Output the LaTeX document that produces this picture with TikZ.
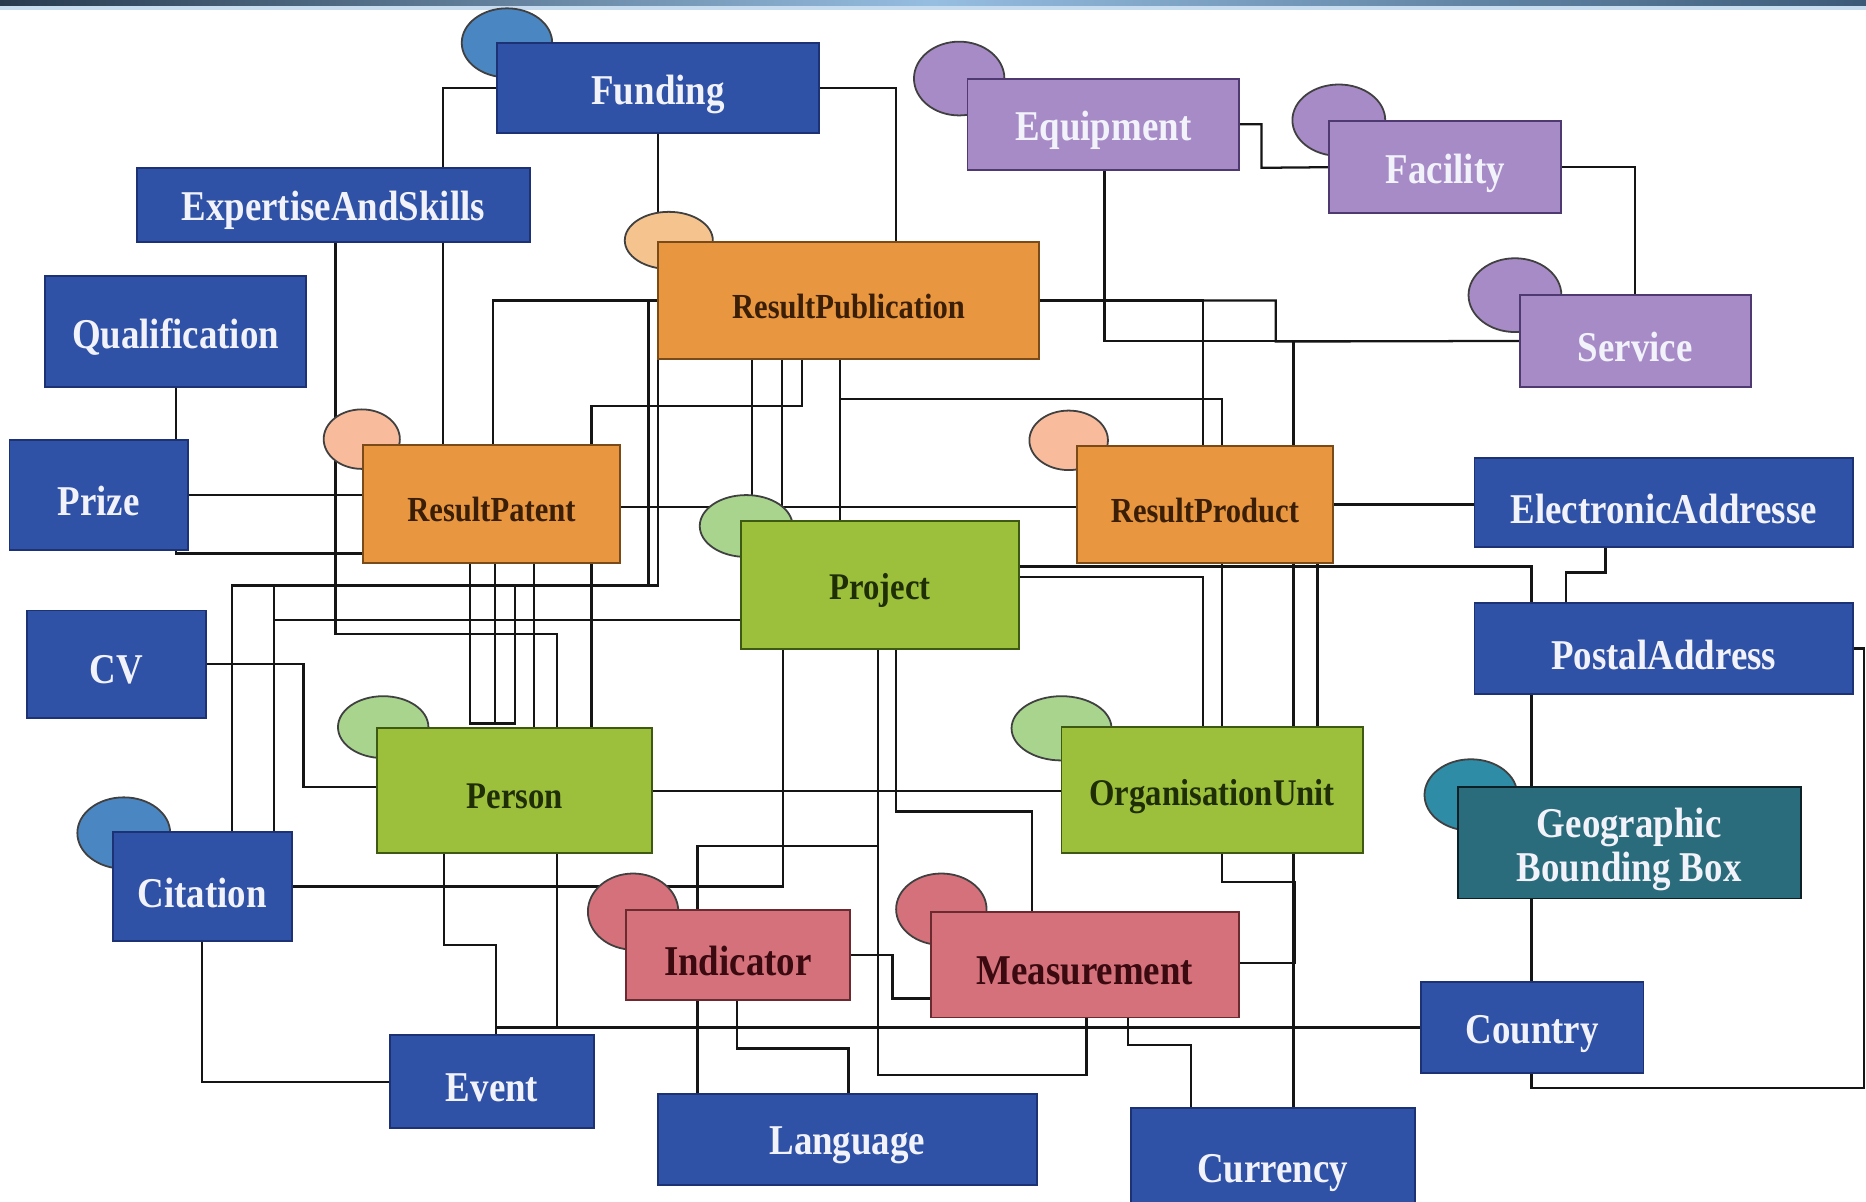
\documentclass[tikz,border=0pt]{standalone}
\usepackage{fontspec}
\setmainfont{Liberation Serif}
\usetikzlibrary{shapes.geometric}
\pgfdeclarelayer{bg}
\pgfsetlayers{bg,main}
\definecolor{bluebox}{HTML}{2F52A6}
\definecolor{blueedge}{HTML}{1C3275}
\definecolor{bluecirc}{HTML}{4A87C2}
\definecolor{purp}{HTML}{A78BC7}
\definecolor{purpedge}{HTML}{4E3A70}
\definecolor{orng}{HTML}{E8963F}
\definecolor{orngedge}{HTML}{7A4A18}
\definecolor{peach}{HTML}{F5C48E}
\definecolor{salmon}{HTML}{F8BC9C}
\definecolor{grn}{HTML}{9CC03C}
\definecolor{grnedge}{HTML}{3E5A12}
\definecolor{lgrn}{HTML}{A8D48E}
\definecolor{pinkbx}{HTML}{D4717A}
\definecolor{pinkedge}{HTML}{6A2A30}
\definecolor{tealbx}{HTML}{2B6C7C}
\definecolor{tealc}{HTML}{2E8CA6}
\definecolor{lnc}{HTML}{151515}
\definecolor{lighttxt}{HTML}{F2F2FA}
\definecolor{darkbrown}{HTML}{3A1E05}
\definecolor{darkgreen}{HTML}{1F2E05}
\definecolor{darkred}{HTML}{3A0A10}
\definecolor{banddark}{HTML}{283A4E}
\definecolor{banddark2}{HTML}{3C5A78}
\definecolor{bandmid}{HTML}{96BEE1}
\definecolor{bandlight}{HTML}{C8DCF0}
\newcommand\T[1]{\raisebox{0pt}[\dimexpr\height+10pt\relax]{\scalebox{1}[1.15]{#1}}}
\newcommand\TT[1]{\raisebox{0pt}[\dimexpr\height+12pt\relax]{\scalebox{1}[1.15]{#1}}}
\newcommand\TS[1]{\scalebox{1}[1.15]{#1}}
\tikzset{
  bx/.style={rectangle, draw, line width=1.6pt, inner sep=0pt, align=center},
  bigfont/.style={font=\fontsize{31}{37}\selectfont\bfseries},
  midfont/.style={font=\fontsize{27.5}{32}\selectfont\bfseries},
  smallfont/.style={font=\fontsize{25.7}{30}\selectfont\bfseries},
  bluebx/.style={bx, bigfont, fill=bluebox, draw=blueedge, text=lighttxt},
  purpbx/.style={bx, bigfont, fill=purp, draw=purpedge, text=lighttxt},
  orngbx/.style={bx, smallfont, fill=orng, draw=orngedge, text=darkbrown},
  grnbx/.style={bx, midfont, fill=grn, draw=grnedge, text=darkgreen},
  pinkbx/.style={bx, bigfont, fill=pinkbx, draw=pinkedge, text=darkred},
  tealbx/.style={bx, bigfont, fill=tealbx, draw=black!70!tealbx, text=lighttxt},
  circ/.style={ellipse, draw=black!75, line width=1.5pt, inner sep=0pt},
  conn/.style={draw=lnc, line width=1.9pt},
}
\begin{document}
\begin{tikzpicture}[x=1pt,y=-1pt]
\useasboundingbox (0,0) rectangle (1568,1010);
\clip (0,0) rectangle (1568,1010);
\begin{pgfonlayer}{bg}
\fill[white] (0,0) rectangle (1568,1010);
\end{pgfonlayer}
% top band
\shade[left color=banddark, right color=banddark2, middle color=bandmid] (0,0) rectangle (1568,5);
\fill[bandlight] (0,5) rectangle (1568,8);

% circles
\node[circ, fill=bluecirc, minimum width=76pt, minimum height=58pt] (fundc) at (426,36) {};
\node[circ, fill=purp, minimum width=76pt, minimum height=62pt] (equipc) at (806,66) {};
\node[circ, fill=purp, minimum width=78pt, minimum height=60pt] (facc) at (1125,101) {};
\node[circ, fill=purp, minimum width=78pt, minimum height=62pt] (servc) at (1273,248) {};
\node[circ, fill=peach, minimum width=74pt, minimum height=48pt] (rpubc) at (562,202) {};
\node[circ, fill=salmon, minimum width=64pt, minimum height=50pt] (rpatc) at (304,369) {};
\node[circ, fill=salmon, minimum width=66pt, minimum height=50pt] (rprodc) at (898,370) {};
\node[circ, fill=lgrn, minimum width=78pt, minimum height=52pt] (projc) at (627,442) {};
\node[circ, fill=lgrn, minimum width=76pt, minimum height=52pt] (personc) at (322,611) {};
\node[circ, fill=lgrn, minimum width=84pt, minimum height=54pt] (orgc) at (892,612) {};
\node[circ, fill=pinkbx, minimum width=76pt, minimum height=64pt] (indc) at (532,766) {};
\node[circ, fill=pinkbx, minimum width=76pt, minimum height=60pt] (measc) at (791,764) {};
\node[circ, fill=bluecirc, minimum width=78pt, minimum height=60pt] (citc) at (104,700) {};
\node[circ, fill=tealc, minimum width=78pt, minimum height=60pt] (geoc) at (1236,668) {};

% boxes
\node[bluebx, minimum width=270pt, minimum height=76pt] (fund) at (553,74) {\T{Funding}};
\node[bluebx, minimum width=330pt, minimum height=62pt] (exp) at (280,172) {\T{ExpertiseAndSkills}};
\node[bluebx, minimum width=219pt, minimum height=93pt] (qual) at (147.5,278.5) {\T{Qualification}};
\node[bluebx, minimum width=150pt, minimum height=92pt] (prize) at (83,416) {\T{Prize}};
\node[bluebx, minimum width=150pt, minimum height=90pt] (cv) at (98,558) {\T{CV}};
\node[bluebx, minimum width=150pt, minimum height=92pt] (cit) at (170,745) {\T{Citation}};
\node[bluebx, minimum width=171pt, minimum height=78pt] (event) at (413.5,909) {\T{Event}};
\node[bluebx, minimum width=318pt, minimum height=77pt] (lang) at (712,957.5) {\T{Language}};
\node[bluebx, minimum width=239pt, minimum height=99pt] (cur) at (1069.5,980.5) {\T{Currency}};
\node[bluebx, minimum width=187pt, minimum height=77pt] (country) at (1287.5,863.5) {\T{Country}};
\node[tealbx, minimum width=288pt, minimum height=94pt] (geo) at (1369,708) {\TT{Geographic}\\\TS{Bounding Box}};
\node[bluebx, minimum width=318pt, minimum height=76pt] (paddr) at (1398,545) {\T{PostalAddress}};
\node[bluebx, minimum width=318pt, minimum height=75pt] (eaddr) at (1398,422.5) {\T{ElectronicAddresse}};
\node[purpbx, minimum width=194pt, minimum height=77pt] (serv) at (1374,286.5) {\T{Service}};
\node[purpbx, minimum width=195pt, minimum height=77pt] (fac) at (1214.5,140.5) {\T{Facility}};
\node[purpbx, minimum width=228pt, minimum height=77pt] (equip) at (927,104.5) {\T{Equipment}};
\node[orngbx, minimum width=320pt, minimum height=99pt] (rpub) at (713,252.5) {\T{ResultPublication}};
\node[orngbx, minimum width=216pt, minimum height=99pt] (rpat) at (413,423.5) {\T{ResultPatent}};
\node[orngbx, minimum width=215pt, minimum height=98pt] (rprod) at (1012.5,424) {\T{ResultProduct}};
\node[grnbx, minimum width=233pt, minimum height=107pt] (proj) at (739.5,491.5) {\T{Project}};
\node[grnbx, minimum width=231pt, minimum height=105pt] (person) at (432.5,664.5) {\T{Person}};
\node[grnbx, minimum width=253pt, minimum height=106pt] (org) at (1018.5,664) {\T{OrganisationUnit}};
\node[pinkbx, minimum width=188pt, minimum height=75pt] (ind) at (620,802.5) {\T{Indicator}};
\node[pinkbx, minimum width=259pt, minimum height=89pt] (meas) at (911.5,810.5) {\T{Measurement}};

\begin{pgfonlayer}{bg}
\draw[conn] (fund.west) -| (rpat.north -| 372,0);
\draw[conn] (fund.south -| 553,0) -- (rpub.north -| 553,0);
\draw[conn] (fund.east) -| (rpub.north -| 753,0);
\draw[conn] (exp.south -| 282,0) |- (468,533) -- (person.north -| 468,0);
\draw[conn] (qual.south -| 148,0) -- (prize.north -| 148,0);
\draw[conn] (prize.east) -- (prize.east -| rpat.west);
\draw[conn] (prize.south -| 148,0) |- (rpat.west |- 0,465);
\draw[conn] (rpub.west) -| (rpat.north -| 414,0);
\draw[conn] (rpub.west) -| (545,492) -| (cit.north -| 195,0);
\draw[conn] (rpub.south -| 553,0) |- (230,492) -- (cit.north -| 230,0);
\draw[conn] (proj.west |- 0,521) -| (cit.north -| 230,0);
\draw[conn] (rpat.south -| 395,0) |- (433,608) -- (433,492);
\draw[conn] (rpat.south -| 416,0) -- (416,608);
\draw[conn] (rpat.south -| 449,0) -- (person.north -| 449,0);
\draw[conn] (rpub.south -| 674,0) |- (497,341) -- (person.north -| 497,0);
\draw[conn] (rpub.south -| 632,0) -- (proj.north -| 632,0);
\draw[conn] (rpub.south -| 657,0) -- (proj.north -| 657,0);
\draw[conn] (rpub.south -| 706,0) -- (proj.north -| 706,0);
\draw[conn] (rpub.south -| 706,0) |- (1027,335) -- (rprod.north -| 1027,0);
\draw[conn] (rpub.east) -| (rprod.north -| 1011,0);
\draw[conn] (rpub.east) -| (1072,287) -- (serv.west);
\draw[conn] (equip.south -| 928,0) |- (serv.west);
\draw[conn] (serv.west) -| (cur.north -| 1087,0);
\draw[conn] (equip.east) -| (1060,141) -- (fac.west);
\draw[conn] (fac.east) -| (serv.north -| 1374,0);
\draw[conn] (rpat.east |- 0,426) -- (rprod.west |- 0,426);
\draw[conn] (rprod.east) -- (eaddr.west |- rprod.east);
\draw[conn] (eaddr.south -| 1349,0) |- (1316,481) -- (paddr.north -| 1316,0);
\draw[conn] (proj.east |- 0,476) -| (paddr.north -| 1287,0);
\draw[conn] (proj.east |- 0,485) -| (org.north -| 1011,0);
\draw[conn] (rprod.south -| 1027,0) -- (org.north -| 1027,0);
\draw[conn] (rprod.south -| 1107,0) -- (org.north -| 1107,0);
\draw[conn] (org.south -| 1027,0) |- (1088,741) |- (meas.east |- 0,809);
\draw[conn] (paddr.south -| 1287,0) -- (geo.north -| 1287,0);
\draw[conn] (geo.south -| 1287,0) -- (country.north -| 1287,0);
\draw[conn] (paddr.east) -| (1566,914) -| (country.south -| 1287,0);
\draw[conn] (cv.east) -| (255,661) -- (person.west |- 0,661);
\draw[conn] (person.east) -- (org.west |- person.east);
\draw[conn] (cit.east) -| (proj.south -| 658,0);
\draw[conn] (cit.south -| 170,0) |- (event.west);
\draw[conn] (person.south -| 373,0) |- (417,794) -- (event.north -| 417,0);
\draw[conn] (event.north -| 417,0) |- (country.west);
\draw[conn] (person.south -| 468,0) -- (468,863.5);
\draw[conn] (proj.south -| 738,0) |- (913,903) -- (meas.south -| 913,0);
\draw[conn] (ind.north -| 586,0) |- (738,711);
\draw[conn] (proj.south -| 753,0) |- (867,682) -- (meas.north -| 867,0);
\draw[conn] (ind.east) -| (750,839) -- (meas.west |- 0,839);
\draw[conn] (ind.south -| 586,0) -- (lang.north -| 586,0);
\draw[conn] (ind.south -| 619,0) |- (713,881) -- (lang.north -| 713,0);
\draw[conn] (meas.south -| 948,0) |- (1001,878) -- (cur.north -| 1001,0);
\end{pgfonlayer}
\end{tikzpicture}
\end{document}
